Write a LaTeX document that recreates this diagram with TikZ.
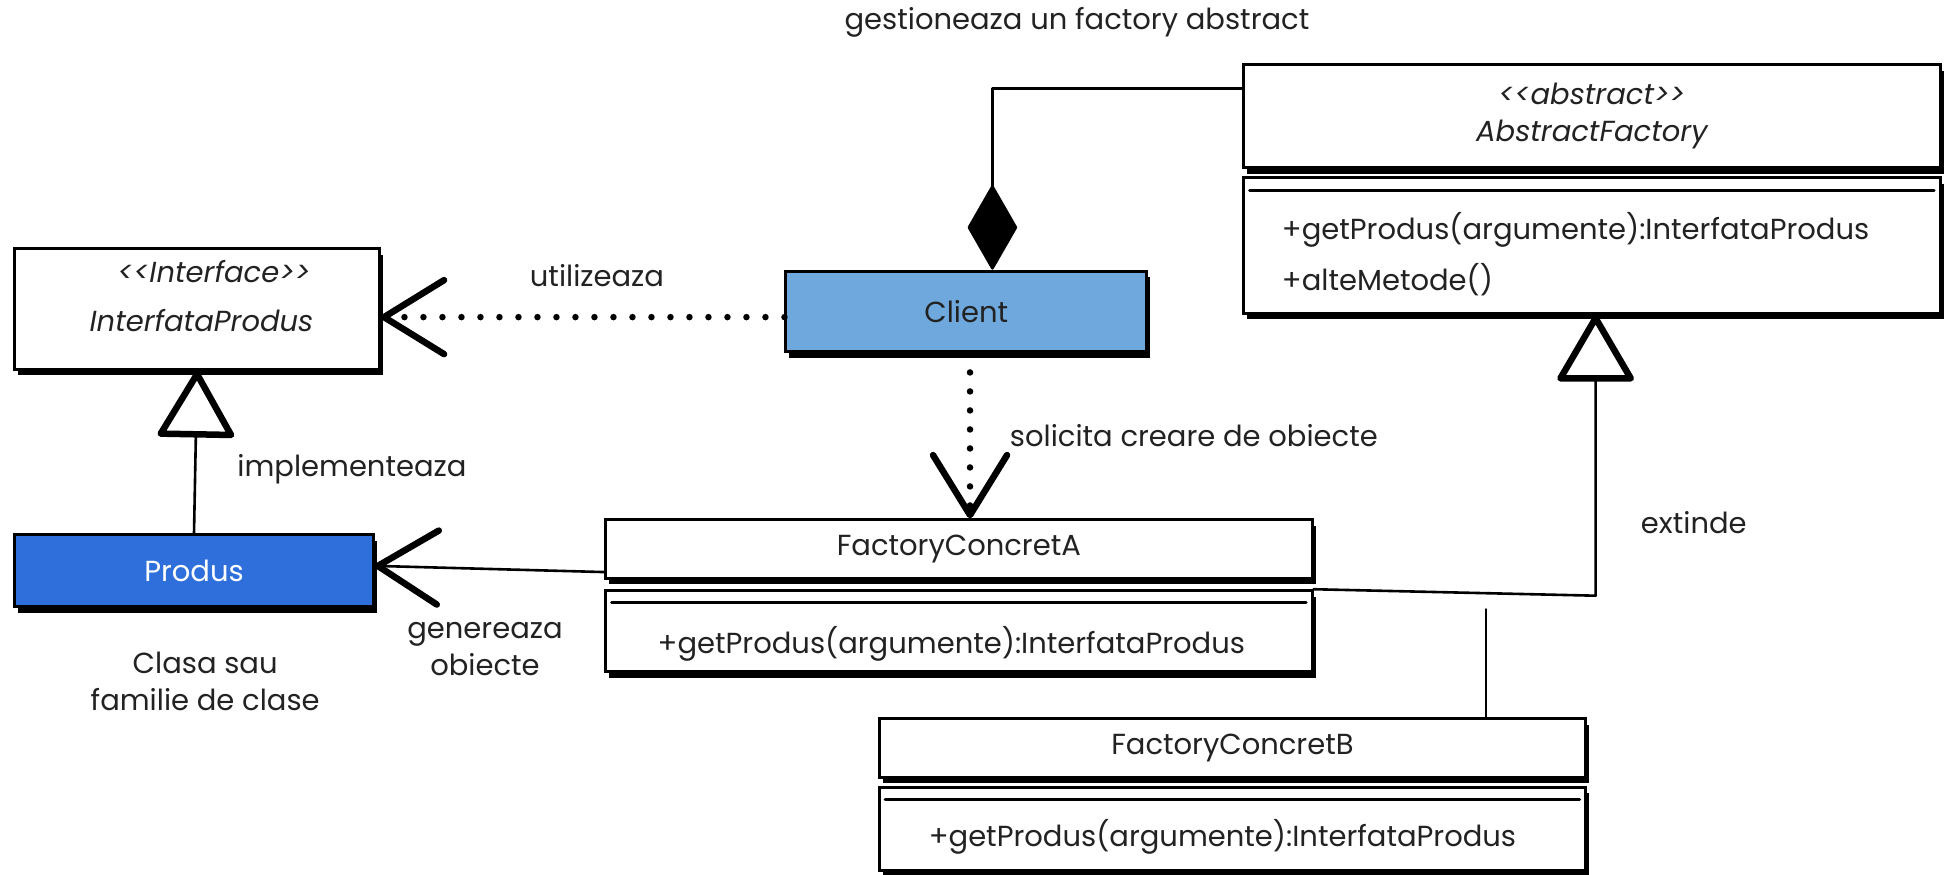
\documentclass[tikz,border=0pt]{standalone}
\usepackage{fontspec}
\setmainfont{Poppins}
\usetikzlibrary{arrows.meta,shadows}
\def\pxu{1.2436pt}
\definecolor{clientblue}{HTML}{6FA8DC}
\definecolor{produsblue}{HTML}{2E6FDB}
\definecolor{ink}{HTML}{222222}
\begin{document}
\begin{tikzpicture}[x=1.2436pt,y=-1.2436pt,
  every node/.style={font=\fontsize{29}{37}\selectfont, text=ink},
  umlbox/.style={draw=black, line width=3pt, fill=white, rectangle, inner sep=0pt,
    drop shadow={shadow xshift=3.5pt, shadow yshift=-6pt, fill=black, opacity=1}},
  conn/.style={line width=2.6pt, line cap=round, line join=round},
  dots/.style={line width=6.5pt, line cap=round, dash pattern=on 0pt off 19pt},
  barb/.style={-{Straight Barb[length=60pt, width=74pt, line width=6.5pt, round]}},
  tri/.style={-{Triangle[open, length=70pt, width=80pt, line width=6.5pt, round]}},
  sep/.style={line width=3pt, line cap=round}
]
\useasboundingbox (0,0) rectangle (1568,703);

% boxes
\node[umlbox, minimum width={560*\pxu}, minimum height={83*\pxu}, align=center] (aftop) at (1280,93.5)
  {\itshape <\kern0pt<abstract>\kern0pt>\\ \itshape AbstractFactory};
\node[umlbox, minimum width={560*\pxu}, minimum height={109*\pxu}] (afmeth) at (1280,197.5) {};
\node[umlbox, fill=clientblue, minimum width={290*\pxu}, minimum height={65*\pxu}] (client) at (777,250.5) {Client};
\node[umlbox, minimum width={293*\pxu}, minimum height={97*\pxu}] (ip) at (158.5,248.5) {};
\node[umlbox, fill=produsblue, minimum width={288*\pxu}, minimum height={58*\pxu}] (produs) at (156,459) {\textcolor{white}{Produs}};
\node[umlbox, minimum width={568*\pxu}, minimum height={47*\pxu}] (fcatop) at (771,441.5) {FactoryConcretA};
\node[umlbox, minimum width={568*\pxu}, minimum height={65*\pxu}] (fcameth) at (771,507.5) {};
\node[umlbox, minimum width={568*\pxu}, minimum height={47*\pxu}] (fcbtop) at (991,601.5) {FactoryConcretB};
\node[umlbox, minimum width={568*\pxu}, minimum height={67*\pxu}] (fcbmeth) at (991,666.5) {};

% separator lines in method boxes
\draw[sep] ([xshift={6*\pxu}, yshift={-11*\pxu}]afmeth.north west) -- ([xshift={-6*\pxu}, yshift={-11*\pxu}]afmeth.north east);
\draw[sep] ([xshift={6*\pxu}, yshift={-11*\pxu}]fcameth.north west) -- ([xshift={-6*\pxu}, yshift={-11*\pxu}]fcameth.north east);
\draw[sep] ([xshift={6*\pxu}, yshift={-11*\pxu}]fcbmeth.north west) -- ([xshift={-6*\pxu}, yshift={-11*\pxu}]fcbmeth.north east);

% texts in boxes
\node (iptxt1) at (172,218) {\itshape <\kern0pt<Interface>\kern0pt>};
\node (iptxt2) at (162,258) {\itshape InterfataProdus};
\node[anchor=west] (afm1) at (1028,185) {+getProdus(argumente):InterfataProdus};
\node[anchor=west] (afm2) at (1028,225) {+alteMetode()};
\node (fcam) at (765,518) {+getProdus(argumente):InterfataProdus};
\node (fcbm) at (983,673) {+getProdus(argumente):InterfataProdus};

% labels
\node (ltitle) at (866,18) {gestioneaza un factory abstract};
\node (lutil) at (480,222) {utilizeaza};
\node (limpl) at (283,377) {implementeaza};
\node (lsol) at (960,350) {solicita creare de obiecte};
\node[align=center] (lgen) at (390,522) {genereaza\\obiecte};
\node[align=center] (lclasa) at (165,548) {Clasa sau\\familie de clase};
\node (lext) at (1362,420) {extinde};

% connectors
\coordinate (aggcorner) at (798,71);
\draw[conn, -{Diamond[length=87pt, width=50pt, round]}] (aftop.west |- 0,71) -- (aggcorner) -- (client.north -| aggcorner);
\draw[dots, barb] (client.west |- 0,255) -- (ip.east |- 0,255);
\draw[dots, barb] (client.south -| 780,0) -- (fcatop.north -| 780,0);
\draw[conn, tri] (produs.north) -- (ip.south);
\draw[conn, barb] (fcatop.west |- 0,460) -- (produs.east |- 0,455);
\coordinate (extcorner) at (1283,479);
\draw[conn, tri] (fcameth.north east) -- (extcorner) -- (afmeth.south -| extcorner);
\coordinate (fcbjoin) at (1195,490);
\draw[conn] (fcbtop.north -| fcbjoin) -- (fcbjoin);
\end{tikzpicture}
\end{document}
